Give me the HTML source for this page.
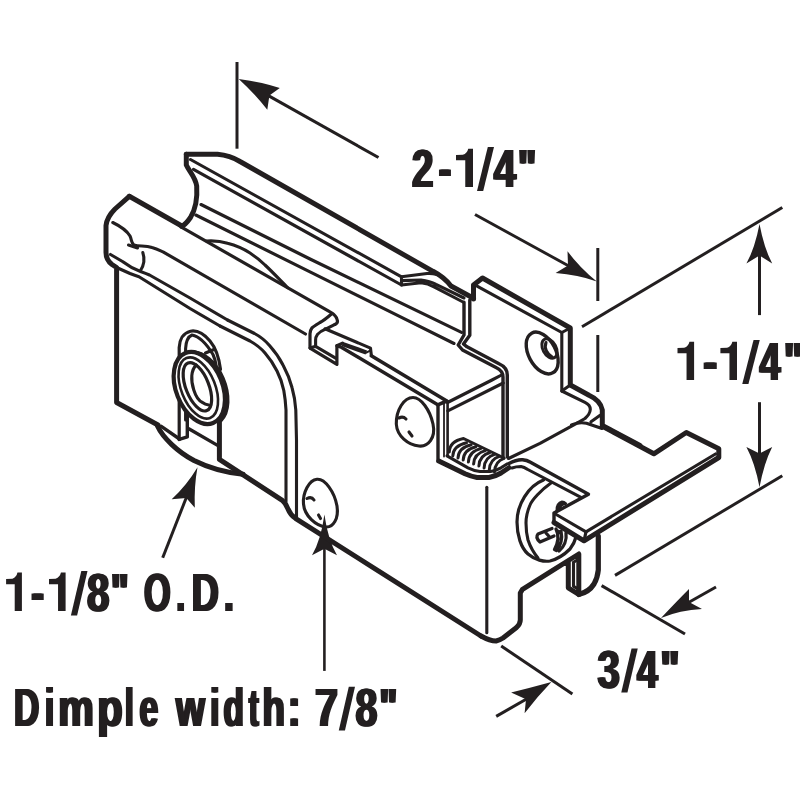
<!DOCTYPE html>
<html><head><meta charset="utf-8">
<style>
html,body{margin:0;padding:0;background:#fff;}
body{width:800px;height:800px;overflow:hidden;}
svg{display:block;}
text{font-family:"Liberation Sans",sans-serif;font-weight:bold;fill:#231f20;}
.k{fill:none;stroke:#231f20;stroke-width:5;stroke-linejoin:round;stroke-linecap:round;}
.n{fill:none;stroke:#231f20;stroke-width:3.1;stroke-linejoin:round;stroke-linecap:round;}
.d{fill:none;stroke:#231f20;stroke-width:3;stroke-linecap:butt;}
.a{fill:#231f20;stroke:none;}
</style></head><body>
<svg width="800" height="800" viewBox="0 0 800 800">
<rect width="800" height="800" fill="#fff"/>
<!--TEXT-->
<g id="txt" style="opacity:0.999">
<text transform="translate(410.67,187.00) scale(0.712,1.000)" font-size="54">2</text>
<text transform="translate(411.92,187.00) scale(0.712,1.000)" font-size="54">2</text>
<text transform="translate(413.17,187.00) scale(0.712,1.000)" font-size="54">2</text>
<text transform="translate(437.54,187.00) scale(0.693,1.000)" font-size="54">-</text>
<text transform="translate(438.79,187.00) scale(0.693,1.000)" font-size="54">-</text>
<text transform="translate(440.04,187.00) scale(0.693,1.000)" font-size="54">-</text>
<path class="a" transform="translate(456.00,148.66) scale(17.00,38.34)" d="M0,0.167L0.40,0.16Q0.66,0.12 0.72,0L1,0V1H0.545V0.304H0Z"/>
<path class="a" d="M487.80,147.00H494.00L483.20,191.00H477.00Z"/>
<text transform="translate(492.39,187.00) scale(0.743,1.000)" font-size="54">4</text>
<text transform="translate(493.64,187.00) scale(0.743,1.000)" font-size="54">4</text>
<text transform="translate(494.89,187.00) scale(0.743,1.000)" font-size="54">4</text>
<text transform="translate(516.40,187.00) scale(0.730,1.000)" font-size="54">&quot;</text>
<text transform="translate(517.65,187.00) scale(0.730,1.000)" font-size="54">&quot;</text>
<text transform="translate(518.90,187.00) scale(0.730,1.000)" font-size="54">&quot;</text>
<path class="a" transform="translate(677.50,341.66) scale(16.60,38.34)" d="M0,0.167L0.40,0.16Q0.66,0.12 0.72,0L1,0V1H0.545V0.304H0Z"/>
<text transform="translate(702.11,380.00) scale(0.777,1.000)" font-size="54">-</text>
<text transform="translate(703.36,380.00) scale(0.777,1.000)" font-size="54">-</text>
<text transform="translate(704.61,380.00) scale(0.777,1.000)" font-size="54">-</text>
<path class="a" transform="translate(720.40,341.66) scale(16.60,38.34)" d="M0,0.167L0.40,0.16Q0.66,0.12 0.72,0L1,0V1H0.545V0.304H0Z"/>
<path class="a" d="M753.55,340.00H759.75L748.45,384.00H742.25Z"/>
<text transform="translate(758.33,380.00) scale(0.698,1.000)" font-size="54">4</text>
<text transform="translate(759.58,380.00) scale(0.698,1.000)" font-size="54">4</text>
<text transform="translate(760.83,380.00) scale(0.698,1.000)" font-size="54">4</text>
<text transform="translate(782.42,380.00) scale(0.752,1.000)" font-size="54">&quot;</text>
<text transform="translate(783.67,380.00) scale(0.752,1.000)" font-size="54">&quot;</text>
<text transform="translate(784.92,380.00) scale(0.752,1.000)" font-size="54">&quot;</text>
<path class="a" transform="translate(6.10,572.56) scale(15.80,38.34)" d="M0,0.167L0.40,0.16Q0.66,0.12 0.72,0L1,0V1H0.545V0.304H0Z"/>
<text transform="translate(30.00,610.90) scale(0.711,1.000)" font-size="54">-</text>
<text transform="translate(31.25,610.90) scale(0.711,1.000)" font-size="54">-</text>
<text transform="translate(32.50,610.90) scale(0.711,1.000)" font-size="54">-</text>
<path class="a" transform="translate(49.00,572.56) scale(16.60,38.34)" d="M0,0.167L0.40,0.16Q0.66,0.12 0.72,0L1,0V1H0.545V0.304H0Z"/>
<path class="a" d="M81.30,571.00H87.50L77.10,615.50H70.90Z"/>
<text transform="translate(85.72,610.90) scale(0.747,1.000)" font-size="54">8</text>
<text transform="translate(86.97,610.90) scale(0.747,1.000)" font-size="54">8</text>
<text transform="translate(88.22,610.90) scale(0.747,1.000)" font-size="54">8</text>
<text transform="translate(109.50,610.90) scale(0.703,1.000)" font-size="54">&quot;</text>
<text transform="translate(110.75,610.90) scale(0.703,1.000)" font-size="54">&quot;</text>
<text transform="translate(112.00,610.90) scale(0.703,1.000)" font-size="54">&quot;</text>
<text transform="translate(142.85,610.90) scale(0.633,1.000)" font-size="54">O</text>
<text transform="translate(144.10,610.90) scale(0.633,1.000)" font-size="54">O</text>
<text transform="translate(145.35,610.90) scale(0.633,1.000)" font-size="54">O</text>
<text transform="translate(175.21,610.90) scale(0.558,1.000)" font-size="54">.</text>
<text transform="translate(176.46,610.90) scale(0.558,1.000)" font-size="54">.</text>
<text transform="translate(177.71,610.90) scale(0.558,1.000)" font-size="54">.</text>
<text transform="translate(190.49,610.90) scale(0.695,1.000)" font-size="54">D</text>
<text transform="translate(191.74,610.90) scale(0.695,1.000)" font-size="54">D</text>
<text transform="translate(192.99,610.90) scale(0.695,1.000)" font-size="54">D</text>
<text transform="translate(222.85,610.90) scale(0.656,1.000)" font-size="54">.</text>
<text transform="translate(224.10,610.90) scale(0.656,1.000)" font-size="54">.</text>
<text transform="translate(225.35,610.90) scale(0.656,1.000)" font-size="54">.</text>
<text transform="translate(12.65,725.70) scale(0.661,1.000)" font-size="53">D</text>
<text transform="translate(13.90,725.70) scale(0.661,1.000)" font-size="53">D</text>
<text transform="translate(15.15,725.70) scale(0.661,1.000)" font-size="53">D</text>
<text transform="translate(43.71,725.70) scale(0.619,1.000)" font-size="53">i</text>
<text transform="translate(44.96,725.70) scale(0.619,1.000)" font-size="53">i</text>
<text transform="translate(46.21,725.70) scale(0.619,1.000)" font-size="53">i</text>
<text transform="translate(57.11,725.70) scale(0.756,1.000)" font-size="53">m</text>
<text transform="translate(58.36,725.70) scale(0.756,1.000)" font-size="53">m</text>
<text transform="translate(59.61,725.70) scale(0.756,1.000)" font-size="53">m</text>
<text transform="translate(96.00,725.70) scale(0.786,1.000)" font-size="53">p</text>
<text transform="translate(97.25,725.70) scale(0.786,1.000)" font-size="53">p</text>
<text transform="translate(98.50,725.70) scale(0.786,1.000)" font-size="53">p</text>
<text transform="translate(123.84,725.70) scale(0.584,1.000)" font-size="53">l</text>
<text transform="translate(125.09,725.70) scale(0.584,1.000)" font-size="53">l</text>
<text transform="translate(126.34,725.70) scale(0.584,1.000)" font-size="53">l</text>
<text transform="translate(138.19,725.70) scale(0.635,1.000)" font-size="53">e</text>
<text transform="translate(139.44,725.70) scale(0.635,1.000)" font-size="53">e</text>
<text transform="translate(140.69,725.70) scale(0.635,1.000)" font-size="53">e</text>
<text transform="translate(174.71,725.70) scale(0.699,1.000)" font-size="53">w</text>
<text transform="translate(175.96,725.70) scale(0.699,1.000)" font-size="53">w</text>
<text transform="translate(177.21,725.70) scale(0.699,1.000)" font-size="53">w</text>
<text transform="translate(209.11,725.70) scale(0.619,1.000)" font-size="53">i</text>
<text transform="translate(210.36,725.70) scale(0.619,1.000)" font-size="53">i</text>
<text transform="translate(211.61,725.70) scale(0.619,1.000)" font-size="53">i</text>
<text transform="translate(222.23,725.70) scale(0.629,1.000)" font-size="53">d</text>
<text transform="translate(223.48,725.70) scale(0.629,1.000)" font-size="53">d</text>
<text transform="translate(224.73,725.70) scale(0.629,1.000)" font-size="53">d</text>
<text transform="translate(247.75,725.70) scale(0.544,1.000)" font-size="53">t</text>
<text transform="translate(249.00,725.70) scale(0.544,1.000)" font-size="53">t</text>
<text transform="translate(250.25,725.70) scale(0.544,1.000)" font-size="53">t</text>
<text transform="translate(261.33,725.70) scale(0.693,1.000)" font-size="53">h</text>
<text transform="translate(262.58,725.70) scale(0.693,1.000)" font-size="53">h</text>
<text transform="translate(263.83,725.70) scale(0.693,1.000)" font-size="53">h</text>
<text transform="translate(286.41,725.70) scale(0.725,1.000)" font-size="53">:</text>
<text transform="translate(287.66,725.70) scale(0.725,1.000)" font-size="53">:</text>
<text transform="translate(288.91,725.70) scale(0.725,1.000)" font-size="53">:</text>
<text transform="translate(313.82,725.70) scale(0.780,1.000)" font-size="53">7</text>
<text transform="translate(315.07,725.70) scale(0.780,1.000)" font-size="53">7</text>
<text transform="translate(316.32,725.70) scale(0.780,1.000)" font-size="53">7</text>
<path class="a" d="M348.80,686.70H355.00L344.95,730.50H338.75Z"/>
<text transform="translate(354.35,725.70) scale(0.741,1.000)" font-size="53">8</text>
<text transform="translate(355.60,725.70) scale(0.741,1.000)" font-size="53">8</text>
<text transform="translate(356.85,725.70) scale(0.741,1.000)" font-size="53">8</text>
<text transform="translate(378.07,725.70) scale(0.725,1.000)" font-size="53">&quot;</text>
<text transform="translate(379.32,725.70) scale(0.725,1.000)" font-size="53">&quot;</text>
<text transform="translate(380.57,725.70) scale(0.725,1.000)" font-size="53">&quot;</text>
<text transform="translate(596.33,687.60) scale(0.759,1.000)" font-size="53">3</text>
<text transform="translate(597.58,687.60) scale(0.759,1.000)" font-size="53">3</text>
<text transform="translate(598.83,687.60) scale(0.759,1.000)" font-size="53">3</text>
<path class="a" d="M631.55,648.60H637.75L627.45,692.50H621.25Z"/>
<text transform="translate(635.68,687.60) scale(0.704,1.000)" font-size="53">4</text>
<text transform="translate(636.93,687.60) scale(0.704,1.000)" font-size="53">4</text>
<text transform="translate(638.18,687.60) scale(0.704,1.000)" font-size="53">4</text>
<text transform="translate(659.05,687.60) scale(0.772,1.000)" font-size="53">&quot;</text>
<text transform="translate(660.30,687.60) scale(0.772,1.000)" font-size="53">&quot;</text>
<text transform="translate(661.55,687.60) scale(0.772,1.000)" font-size="53">&quot;</text>
</g>
<!--DIMS-->
<g id="dims">
<!-- 2-1/4 -->
<path class="d" d="M237,62V148.7"/>
<path class="d" d="M263,92.6L378.5,157.5"/>
<path class="a" d="M238.7,79Q262,82 279.8,88.1L269.4,95.4L267.3,109.8Q256,95 238.7,79Z"/>
<path class="d" d="M597.8,248V301"/>
<path class="d" d="M597.8,335V392"/>
<path class="d" d="M475,214.5L572,267.7"/>
<path class="a" d="M596.8,281.4Q580,268 567.5,251.2L568,265.6L555.6,273.1Q578,275 596.8,281.4Z"/>
<!-- 1-1/4 -->
<path class="d" d="M582,326.8L782.3,207.5"/>
<path class="d" d="M615,575.4L782.3,475.7"/>
<path class="d" d="M759.5,250V315.1"/>
<path class="a" d="M759.5,224Q764,248 772.2,263.5L759.5,255.6L746.4,263.5Q755,248 759.5,224Z"/>
<path class="d" d="M759.5,402.2V458"/>
<path class="a" d="M759.5,487.2Q764,463 772.2,446.9L759.5,453.5L746.4,446.9Q755,463 759.5,487.2Z"/>
<!-- 3/4 -->
<path class="d" d="M601.6,585.6L685,634"/>
<path class="d" d="M501.2,645.9L572.4,694"/>
<path class="d" d="M716,587L685,604.5"/>
<path class="a" d="M661,618Q678,600 689,589L689,602L702,609Q680,610 661,618Z"/>
<path class="d" d="M496.2,716.4L530,697"/>
<path class="a" d="M551.4,682.1Q530,688 511.1,692.6L526,699.3L524.6,713.3Q538,696 551.4,682.1Z"/>
<!-- OD -->
<path class="d" d="M162.7,557.7L188.5,492"/>
<path class="a" d="M197.5,467.2Q187,485 171.7,499.2L186.3,498L194.8,507.8Q194,486 197.5,467.2Z"/>
<!-- dimple -->
<path d="M324.4,670.9V545" fill="none" stroke="#231f20" stroke-width="2.6"/>
<path class="a" d="M324.4,514.6Q328,540 337,555.3L324.4,548.8L312,555.3Q321,540 324.4,514.6Z"/>
</g>
<!--BODY-->
<g id="body">
<!-- ===== back rail ===== -->
<path class="k" d="M186.3,154.3L217.5,154.3Q230,155.5 240,161.5L433,271.3C440,275 446,279.5 451,286L473.5,298.2"/>
<path class="k" d="M186.3,154.3V165C189,171 195.5,177 196.7,186C197.5,198 195,210 190.5,217.5C187,222.5 184,225.5 181.5,226.3"/>
<path class="n" d="M190.5,159.5L401.5,276.8"/>
<path class="n" d="M193.5,169.3L401.5,285"/>
<path class="n" d="M201,204.5L310,259L461.5,332.3"/>
<path class="n" d="M195.8,215L310,271.8L454,343.5"/>
<!-- rail lip end -->
<path class="n" d="M401.5,276.8V285M401.5,276.8L427,273.5Q436,273 442,276.5M401.5,280.6L421,280Q430,281 436,284.3L464,298M401.5,285L421,282.8Q428,283.5 434,286.8L463,302"/>
<!-- ===== front rail / end cap ===== -->
<path class="k" d="M129.3,196.3L181.8,226"/>
<path class="k" d="M129.3,196.3L115,209Q107,217 106,225.5V252.5Q106,260 112,264.5L116.6,267.5V402.5L158,425"/>
<path class="n" style="stroke-width:3.2" d="M181.8,227.3L330,311.9C334,314 337,317 337.5,321Q337.5,323.5 335,324.4"/>
<path class="n" d="M112.8,222.5C120,226 127,231 130,236C132,240 131,243 134,245C139,247 145,245 152,247.5C157,249 160,250.5 163,251.8L305.5,334"/>
<path class="n" d="M128.5,245L137.5,248"/>
<path class="n" d="M142.8,252.5Q146,262 140.5,270.5"/>
<path class="n" d="M110.5,254.5L122.5,261.5Q131,268 140.5,271.5Q146,273.5 149.5,275L190,298L227.5,320"/>
<path class="n" d="M116.6,267.5L130,273.5Q135,275.5 139,276.8L190,308.5L220,326"/>
<!-- boss double line -->
<path class="n" d="M227.5,320L254.5,333.5Q263,338 269.5,345.5Q278,355 283,365Q289,376 292,387.5Q295,398 295.8,410L296.5,440V517"/>
<path class="n" d="M220,326L250,341Q259,346 265,353Q272,361 277,371Q282,381 283.8,390.5Q285.5,400 286,410V501.5"/>
<!-- wheel top arc -->
<path class="n" d="M206.5,241C214,240.5 222,241.5 227.5,243.3C236,245.5 243,248.5 250,253C256,257 261,261 265,265C271,270.5 281,281 287.5,287.5"/>
<!-- wheel bottom -->
<path class="k" d="M157.5,426C163,438 178,452 194,460.5C208,467.5 225,472.5 243,474.3"/>
<path class="n" style="stroke-width:3.4" d="M161.3,426.3L179.5,439"/>
<!-- bottom edge -->
<path class="k" d="M219.4,421V459.4L282.3,500.4Q286,503.5 288,509Q290.5,515 295.4,518.3L481,636"/>
<!-- axle bracket -->
<path class="n" style="stroke-width:3.4" d="M188.8,428.8L218,445.6"/>
<path class="n" style="stroke-width:3.4" d="M179.2,439.4L187.3,436.9V408"/>
<!-- slot behind bushing -->
<path class="n" style="stroke-width:3.2" d="M179.2,439.4V347.5C179.5,340 183,333 190.5,331.2C197,330 204,334 210,341C215,347 219,357 220.5,369.5"/>
<path class="n" d="M185.6,420V348.5C186,341 188.5,336.5 192,335C198,336 206,343 213,354.5Q215.5,360 216,365"/>
<path class="n" d="M205.5,353L214.5,349.2"/>
<!-- bushing -->
<path class="k" style="stroke-width:4.2" d="M191.8,352.7A23.2,37.6 -21.6 0 1 220.7,420.2"/>
<g transform="translate(199.3,388) rotate(-21.6)"><ellipse rx="23.2" ry="37.6" fill="#fff" stroke="#231f20" stroke-width="4.2"/></g>
<g transform="translate(198.3,388) rotate(-21.6)"><ellipse class="n" rx="17" ry="32.2" style="stroke-width:2.6"/></g>
<g transform="translate(197.4,386.8) rotate(-21.6)"><ellipse class="n" rx="11.5" ry="25.6" style="stroke-width:3.2"/></g>
<path class="n" d="M196.3,365C191,370 190.5,380 193.8,390C196,397 199,401 202.5,402.5Q205,404.5 208.8,405"/>

<!-- ===== front rail tab (fold) ===== -->
<path class="n" style="stroke-width:3.2" d="M332,313.5C328,317 324,320.5 320,322.5C316,325 313.5,326.5 311.9,328Q310,330.5 310,333.8V348.1L336.9,364.4V345.6L342.5,343.1"/>
<path class="n" d="M335,324.4C331,326.5 328,328 325,329.4C321,331 319,332.5 317.5,334.4Q315.6,337 315.6,340V346.3L335.6,358.1M310,348.1L315.6,346.3"/>
<path class="n" d="M325,328.8L370.5,348.1L371.3,355"/>
<path class="k" style="stroke-width:4.4;stroke-linecap:butt" d="M342.5,344L366.3,352.5"/>
<path class="n" style="stroke-width:2" d="M366.3,352.7L371,350.2"/>
<path class="k" style="stroke-width:3.4" d="M337,345.8L341.3,347.2L437.8,404.8"/>
<path class="k" style="stroke-width:3.6" d="M371.3,355.8L446.8,401L437.8,404.8"/>
<!-- ===== back plate with hole ===== -->
<path class="k" d="M473.5,299V285L482.5,278L570.3,328V385L589,395.3Q600.5,400.5 602.3,410V425.5L640,445.5"/>
<path class="n" d="M477.5,286.3L561.8,332.5V391L585,402.3Q590.5,405 590.3,409.5Q590,414 585,418.5L577.5,422.8"/>
<path class="n" d="M561.8,332.5L570.3,328"/>
<path class="n" style="stroke-width:3.4" d="M464,302.3V335L458.2,345L462.5,350L496.5,367.8Q503,371 503,377V457"/>
<path class="n" style="stroke-width:3.4" d="M469.8,300V335.3L463.5,344L467,346.8L499,363.8Q507.3,367.5 507.3,375V457"/>
<g transform="translate(542.2,353) rotate(-28)"><ellipse class="n" rx="13.6" ry="22.5" style="stroke-width:3.4"/></g>
<g transform="translate(549.5,348.5) rotate(-28)"><ellipse class="n" rx="6.6" ry="10.5" style="stroke-width:3"/></g><path class="n" d="M546,342.5C544,348 546.5,354 552.5,357.3"/>
<!-- ===== box interior ===== -->
<path class="k" style="stroke-width:3.4" d="M438,404.8V461"/><path class="n" style="stroke-width:1.8" d="M444,403.5V456.5"/>
<path class="n" style="stroke-width:2.6" d="M447.6,401V455.5"/>
<path class="n" d="M447.5,402.5L492,380L502.5,374.5"/>
<path class="n" d="M447.8,410.8L503.3,383"/>
<!-- spring -->
<g fill="none" stroke="#231f20" stroke-width="3" stroke-linecap="round">
<path d="M449.3,452C449.5,445 454,440.5 463.5,438.5L504,458"/>
<path d="M452.8,456.0Q453.3,445.8 466.5,442.8"/>
<path d="M458.0,458.0Q458.5,447.7 471.2,444.7"/>
<path d="M463.2,460.0Q463.7,449.7 475.9,446.7"/>
<path d="M468.4,462.0Q468.9,451.6 480.6,448.6"/>
<path d="M473.6,464.0Q474.1,453.6 485.2,450.6"/>
<path d="M478.9,466.0Q479.4,455.5 489.9,452.5"/>
<path d="M484.1,468.0Q484.6,457.4 494.6,454.4"/>
<path d="M489.3,470.0Q489.8,459.4 499.3,456.4"/>
<path d="M494.5,472.0Q495.0,461.3 504.0,458.3"/>
</g>
<!-- front bottom edge of box -> strip -->
<path class="k" d="M438.8,461L465,473.8Q471,476.5 477,477.5H489Q495,476.5 501,473L510,467Q513,464 516,462.5Q520,460 525,461.8"/>
<path class="n" d="M447,455.8L468,467.8Q474,470.8 480,471.5H490.5Q496,470.5 501,467.8L507,464"/>
<path class="n" d="M486.8,487.3V632.8"/>
<!-- adjustment plate back edge -->
<path class="n" d="M508.5,458.5L540,443.3L577.5,422.8M571.5,425Q579,421.8 586.5,423.3L602,428.5M591,421.8L599.8,415.5M561.8,391L570.3,385"/>
<!-- screw head -->
<path class="k" style="stroke-width:3.2" d="M543.5,480C528,486 517,505 517,522C517,535 521,548 528,554C535,560 544,562 550,561C558,559 566,553 570,549C573,545 575,541 576,537"/>
<path class="n" d="M551,483C541,490 532,500 530,505C527,512 526,518 526,523C526,530 527,536 528,540C530,546 533,552 538,558"/>
<path class="n" style="stroke-width:3.3" d="M552,528.5L538,534Q535,537.5 540,542L554,536M546,533L550,537.5"/>
<path class="n" style="stroke-width:3.3" d="M556,529C559,535 558,543 554.5,549.5L556.5,550.5C561,545 562.5,538 561,531L559.5,532.5L557,530.5"/>
<path class="n" style="stroke-width:3.3" d="M566,533C567,540 564,547 559,551"/>
<path class="n" d="M557,511C556.5,506 559,502.5 562,502Q564,502 565.5,503.5M559.5,508Q560.5,504.5 564,503.8"/>
<!-- strip (double line) -->
<path d="M509,463.5Q516,459.5 522.5,459.7Q527,460 530,462L588.5,494.3L581,497.3L527.8,469.5Q524,467 521,466.5Q516,466.5 512,468Z" fill="#fff" stroke="none"/>
<path class="k" style="stroke-width:3.4" d="M509,463.5Q516,459.5 522.5,459.7Q527,460 530,462L588.5,494.3L554,513V522.5"/>
<path class="n" d="M512,468Q516,466.5 521,466.5Q524,467 527.8,469.5L581,497.3"/>
<!-- ===== adjustment plate ===== -->
<path class="k" d="M554,522.5L584,540.8L718.8,457.5V448.8L686.3,432.5L653.8,453.8L602.5,426.3"/>
<path class="n" d="M554.5,513.5L586,531.8L715.5,454"/>
<path class="k" style="stroke-width:3.2" d="M586,531.8L584,540.8"/>
<!-- ===== bottom right corner ===== -->
<path class="k" d="M481,636Q490,641 496,641Q500,640 503,638L516.5,627.5Q520.3,624 520.3,620V593L522.5,589.3L578.8,554V594.5L568.3,587.8V562.5"/>
<path class="k" style="stroke-width:5.2" d="M598.3,536V570Q597.5,578 594,584Q589,592 578.8,594.5"/>
<path class="n" d="M573.5,562.3V586.3L578.8,589.3M573.5,562.3L578.8,559"/>
<!-- dimples -->
<path class="n" d="M413,397.5C421,397.5 430,410 433,424C436,438 428,447 419,446C408,445 397,436 396.3,424C396,410 404,397.5 413,397.5Z"/>
<path class="n" d="M399,418Q403,416 406,419M409,432L412,436"/>
<path class="n" d="M317,479.3C325,478.5 334.5,492 337,506C339,519 333,527.5 326,527C316,526 304.5,516 303.5,504C302.5,493 309,480 317,479.3Z"/>
<path class="n" d="M307,498.5Q311.5,496 314,500M318.5,515L320.5,518.5"/>
</g>
</svg>
</body></html>
